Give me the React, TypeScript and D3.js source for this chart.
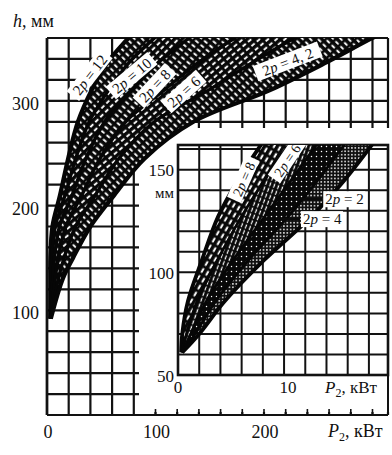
import React from 'react';
import * as d3 from 'd3';

// ---------- main chart data ----------
const mainPDomain: [number, number] = [0, 314.3];
const mainHDomain: [number, number] = [0, 360];
const mainXTickLabels = [0, 100, 200];
const mainYTickLabels = [100, 200, 300];
const mainGridP = [0, 20, 40, 60, 80, 100, 120, 140, 160, 180, 200, 220, 240, 260, 280, 300];
const mainGridH = [0, 20, 40, 60, 80, 100, 120, 140, 160, 180, 200, 220, 240, 260, 280, 300, 320, 340, 360];
const mainAxisTicksP = [100, 120, 140, 160, 180, 200, 220, 240, 260, 280, 300];

// band boundaries: P (kW) at each h level (mm)
const mainHLevels = [92, 130, 150, 180, 210, 245, 280, 310, 337, 360, 375];
const mainEdge12Upper = [3.0, 3.0, 3.1, 5, 12, 19.5, 28.5, 41, 56, 75, 88];
const mainEdge12to10 = [3.1, 3.9, 4.4, 7.6, 16.7, 26.5, 38.9, 56.6, 76, 99, 115];
const mainEdge10to8 = [3.2, 5.4, 6.8, 11.5, 23.2, 36, 53.1, 78.1, 103, 131, 149];
const mainEdge8to6 = [3.3, 7.5, 10.3, 17.4, 32.1, 48.9, 72.5, 107.7, 140, 173, 195];
const mainEdge6to42 = [3.4, 10.4, 15.7, 26.4, 44.6, 66.3, 98.9, 148.6, 190, 228, 254];
const mainEdge42Lower = [3.5, 14.5, 24, 40, 62, 90, 135, 205, 258, 300, 330];

const mainBandPoles = ['12', '10', '8', '6', '4, 2'];
const mainLabelP = [39.6, 78.3, 99.5, 126.3, 222];
const mainLabelH = [324.7, 323.8, 314.2, 308.5, 337.2];
const mainLabelAngle = [-52, -40, -47, -42, -21];

// ---------- inset data ----------
const insetPDomain: [number, number] = [0, 19.8];
const insetHDomain: [number, number] = [50, 162];
const insetXTickLabels = [0, 10];
const insetYTickLabels = [50, 100, 150];
const insetGridP = [0, 2, 4, 6, 8, 10, 12, 14, 16, 18];
const insetGridH = [50, 60, 70, 80, 90, 100, 110, 120, 130, 140, 150, 160];

const insetHLevels = [61, 70, 86, 106, 127, 145, 160, 170];
const insetEdge8Upper = [0.3, 0.4, 0.94, 2.26, 3.77, 5.66, 7.55, 8.9];
const insetEdge8to6 = [0.33, 0.8, 1.81, 3.73, 5.97, 8.17, 10.16, 11.5];
const insetEdge6to4 = [0.35, 1.2, 2.68, 5.2, 8.16, 10.69, 12.77, 14.15];
const insetEdge4to2 = [0.38, 1.6, 3.55, 6.66, 10.36, 13.2, 15.37, 16.8];
const insetEdge2Lower = [0.4, 2.0, 4.42, 8.13, 12.55, 15.71, 17.98, 19.4];

const insetRotPoles = ['8', '6'];
const insetRotLabelP = [6.2, 10.3];
const insetRotLabelH = [145.4, 154.6];
const insetRotAngle = [-66, -56];

const insetLeaderPoles = ['2', '4'];
const insetLeaderFromP = [11.5, 9.6];
const insetLeaderToP = [13.6, 11.5];
const insetLeaderH = [135.6, 125.9];

const FONT = '"Liberation Serif", "DejaVu Serif", serif';

function PoleLabel({ pole }: { pole: string }) {
  return (
    <>
      <tspan>2</tspan>
      <tspan fontStyle="italic">p</tspan>
      <tspan>{' = ' + pole}</tspan>
    </>
  );
}

export default function App() {
  const x = d3.scaleLinear().domain(mainPDomain).range([47, 388]);
  const y = d3.scaleLinear().domain(mainHDomain).range([415, 38]);
  const xi = d3.scaleLinear().domain(insetPDomain).range([178, 388]);
  const yi = d3.scaleLinear().domain(insetHDomain).range([375, 145]);

  const mainEdges = [mainEdge12Upper, mainEdge12to10, mainEdge10to8, mainEdge8to6, mainEdge6to42, mainEdge42Lower];
  const insetEdges = [insetEdge8Upper, insetEdge8to6, insetEdge6to4, insetEdge4to2, insetEdge2Lower];

  const bandArea = (levels: number[], A: number[], B: number[], sx: any, sy: any) =>
    d3
      .area<number>()
      .y((h) => sy(h))
      .x0((_, j) => sx(A[j]))
      .x1((_, j) => sx(B[j]))
      .curve(d3.curveCatmullRom)(levels) as string;

  const edgeLine = (levels: number[], A: number[], sx: any, sy: any) =>
    d3
      .line<number>()
      .y((h) => sy(h))
      .x((_, j) => sx(A[j]))
      .curve(d3.curveCatmullRom)(levels) as string;

  const mainPatternAngles = [45, -45, 40, -40, 45];
  const gridStroke = '#121212';

  return (
    <svg width={392} height={455} style={{ display: 'block', position: 'absolute', left: 0, top: 0, background: '#fff' }} fontFamily={FONT}>
      <defs>
        {mainPatternAngles.map((a, i) => (
          <pattern key={i} id={`mh${i}`} patternUnits="userSpaceOnUse" width={7} height={5.4} patternTransform={`rotate(${a})`}>
            <rect width={7} height={5.4} fill="#080808" />
            <rect x={i % 2 ? 2 : 0.5} y={1.6} width={4.2} height={1.9} fill="#fff" />
          </pattern>
        ))}
        <pattern id="ih0" patternUnits="userSpaceOnUse" width={8} height={5.5} patternTransform="rotate(-60)">
          <rect width={8} height={5.5} fill="#080808" />
          <rect x={0.5} y={1.6} width={5} height={2} fill="#fff" />
        </pattern>
        <pattern id="ih1" patternUnits="userSpaceOnUse" width={4.2} height={6} patternTransform="rotate(20)">
          <rect width={4.2} height={6} fill="#080808" />
          <rect x={1.4} y={0.6} width={1.2} height={4.2} fill="#fff" />
        </pattern>
        <pattern id="ih2" patternUnits="userSpaceOnUse" width={5} height={5}>
          <rect width={5} height={5} fill="#080808" />
          <circle cx={1.5} cy={1.5} r={0.75} fill="#fff" />
        </pattern>
        <pattern id="ih3" patternUnits="userSpaceOnUse" width={3.4} height={3.4}>
          <rect width={3.4} height={3.4} fill="#101010" />
          <circle cx={1.7} cy={1.7} r={0.85} fill="#fff" />
        </pattern>
        <clipPath id="mainClip">
          <rect x={47} y={38} width={341} height={377} />
        </clipPath>
        <clipPath id="insetClip">
          <rect x={178} y={145} width={210} height={230} />
        </clipPath>
      </defs>

      {/* main grid */}
      <g stroke={gridStroke} strokeWidth={2.2}>
        {mainGridP.map((p) => (
          <line key={'gv' + p} x1={x(p)} x2={x(p)} y1={y(360)} y2={y(0)} />
        ))}
        <line x1={x(mainPDomain[1])} x2={x(mainPDomain[1])} y1={y(360)} y2={y(0)} />
        {mainGridH.map((h) => (
          <line key={'gh' + h} x1={x(0)} x2={x(mainPDomain[1])} y1={y(h)} y2={y(h)} />
        ))}
      </g>

      {/* white zone of the inset */}
      <rect x={139} y={128} width={260} height={284} fill="#fff" />
      <line x1={x(0)} x2={x(mainPDomain[1])} y1={y(0)} y2={y(0)} stroke={gridStroke} strokeWidth={2.2} />
      <line x1={x(0)} x2={x(0)} y1={y(360)} y2={y(0)} stroke={gridStroke} strokeWidth={2.6} />
      <line x1={388} x2={388} y1={375} y2={y(0)} stroke={gridStroke} strokeWidth={2} />
      <g stroke={gridStroke} strokeWidth={1.6}>
        {mainAxisTicksP.map((p) => (
          <line key={'t' + p} x1={x(p)} x2={x(p)} y1={y(0) - 6} y2={y(0)} />
        ))}
      </g>

      {/* main bands */}
      <g clipPath="url(#mainClip)">
        {mainBandPoles.map((_, i) => (
          <path key={'mb' + i} d={bandArea(mainHLevels, mainEdges[i], mainEdges[i + 1], x, y)} fill={`url(#mh${i})`} />
        ))}
        {mainEdges.map((e, i) => (
          <path
            key={'me' + i}
            d={edgeLine(mainHLevels, e, x, y)}
            fill="none"
            stroke="#060606"
            strokeWidth={i === 0 || i === mainEdges.length - 1 ? 4.2 : 3.4}
          />
        ))}
        {mainBandPoles.map((pole, i) => {
          const w = (pole.length + 5) * 7.2 + 4;
          return (
            <g key={'ml' + i} transform={`translate(${x(mainLabelP[i])},${y(mainLabelH[i])}) rotate(${mainLabelAngle[i]})`}>
              <rect x={-w / 2} y={-8.5} width={w} height={16} fill="#fff" />
              <text textAnchor="middle" dominantBaseline="central" fontSize={15} fill="#111">
                <PoleLabel pole={pole} />
              </text>
            </g>
          );
        })}
      </g>

      {/* inset grid */}
      <g stroke={gridStroke} strokeWidth={2}>
        {insetGridP.map((p) => (
          <line key={'igv' + p} x1={xi(p)} x2={xi(p)} y1={yi(insetHDomain[1])} y2={yi(insetHDomain[0])} />
        ))}
        {insetGridH.map((h) => (
          <line key={'igh' + h} x1={xi(0)} x2={xi(insetPDomain[1])} y1={yi(h)} y2={yi(h)} />
        ))}
      </g>
      <rect x={178} y={145} width={210} height={230} fill="none" stroke={gridStroke} strokeWidth={2.6} />

      {/* inset bands */}
      <g clipPath="url(#insetClip)">
        {insetEdges.slice(0, -1).map((_, i) => (
          <path key={'ib' + i} d={bandArea(insetHLevels, insetEdges[i], insetEdges[i + 1], xi, yi)} fill={`url(#ih${i})`} />
        ))}
        {insetEdges.map((e, i) => (
          <path
            key={'ie' + i}
            d={edgeLine(insetHLevels, e, xi, yi)}
            fill="none"
            stroke="#060606"
            strokeWidth={i === 0 || i === insetEdges.length - 1 ? 3.8 : 2.8}
          />
        ))}
        {insetRotPoles.map((pole, i) => {
          const w = (pole.length + 5) * 7 + 4;
          return (
            <g key={'il' + i} transform={`translate(${xi(insetRotLabelP[i])},${yi(insetRotLabelH[i])}) rotate(${insetRotAngle[i]})`}>
              <rect x={-w / 2} y={-8} width={w} height={15} fill="#fff" />
              <text textAnchor="middle" dominantBaseline="central" fontSize={14} fill="#111">
                <PoleLabel pole={pole} />
              </text>
            </g>
          );
        })}
      </g>
      {insetLeaderPoles.map((pole, i) => (
        <g key={'ld' + i}>
          <line
            x1={xi(insetLeaderFromP[i])}
            x2={xi(insetLeaderToP[i])}
            y1={yi(insetLeaderH[i])}
            y2={yi(insetLeaderH[i])}
            stroke="#0a0a0a"
            strokeWidth={2.4}
          />
          <rect x={xi(insetLeaderToP[i]) + 1} y={yi(insetLeaderH[i]) - 8} width={42} height={16} fill="#fff" />
          <text x={xi(insetLeaderToP[i]) + 3} y={yi(insetLeaderH[i])} dominantBaseline="central" fontSize={15} fill="#111">
            <PoleLabel pole={pole} />
          </text>
        </g>
      ))}

      {/* main axis labels */}
      <g fontSize={18} fill="#111">
        {mainYTickLabels.map((v) => (
          <text key={'yl' + v} x={39} y={y(v) + 3} textAnchor="end" dominantBaseline="central">
            {v}
          </text>
        ))}
        {mainXTickLabels.map((v) => (
          <text key={'xl' + v} x={x(v) + 1} y={438} textAnchor="middle">
            {v}
          </text>
        ))}
        <text x={13} y={27}>
          <tspan fontStyle="italic">h</tspan>
          <tspan>, мм</tspan>
        </text>
        <text x={328} y={437}>
          <tspan fontStyle="italic">P</tspan>
          <tspan fontSize={12} dy={4}>2</tspan>
          <tspan dy={-4}>, кВт</tspan>
        </text>
      </g>

      {/* inset axis labels */}
      <g fontSize={17} fill="#111">
        {insetYTickLabels.map((v) => (
          <text key={'iyl' + v} x={174} y={yi(v) + 1} textAnchor="end" dominantBaseline="central">
            {v}
          </text>
        ))}
        <text x={174} y={193} textAnchor="end" dominantBaseline="central" fontSize={15}>
          мм
        </text>
        {insetXTickLabels.map((v) => (
          <text key={'ixl' + v} x={xi(v) + (v === 0 ? 0 : 4)} y={393} textAnchor="middle">
            {v}
          </text>
        ))}
        <text x={325} y={393}>
          <tspan fontStyle="italic">P</tspan>
          <tspan fontSize={12} dy={4}>2</tspan>
          <tspan dy={-4}>, кВт</tspan>
        </text>
      </g>
    </svg>
  );
}
